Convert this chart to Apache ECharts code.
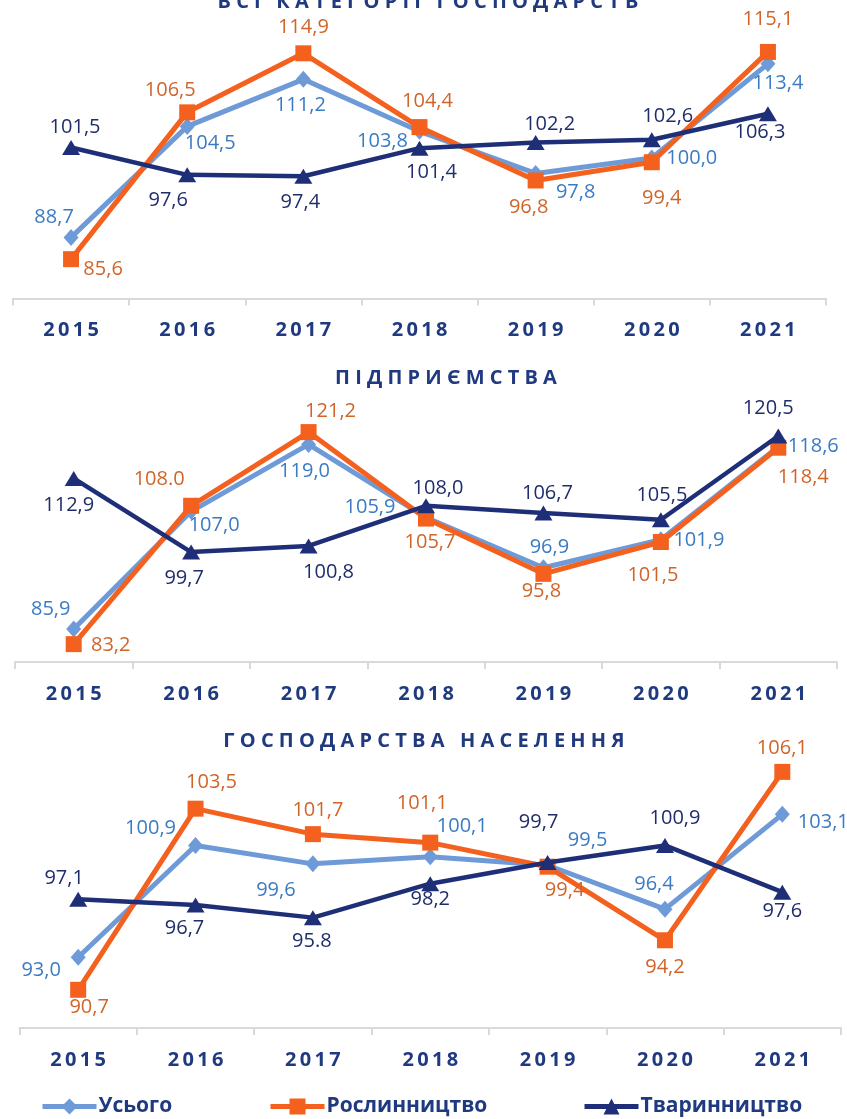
<!DOCTYPE html>
<html><head><meta charset="utf-8">
<script src="https://cdn.jsdelivr.net/npm/echarts@6/dist/echarts.min.js"></script>
<style>html,body{margin:0;padding:0;background:#fff;}#c{width:847px;height:1119px;}</style>
</head><body><div id="c"></div>
<script>
// ---- data ----
const years = ['2015','2016','2017','2018','2019','2020','2021'];
const seriesNames = ['Усього','Рослинництво','Тваринництво'];
const panelTitles = ['ВСІ КАТЕГОРІЇ ГОСПОДАРСТВ','ПІДПРИЄМСТВА','ГОСПОДАРСТВА НАСЕЛЕННЯ'];

// Всі категорії господарств
const allTotal   = [88.7, 104.5, 111.2, 103.8, 97.8, 100.0, 113.4];
const allCrop    = [85.6, 106.5, 114.9, 104.4, 96.8, 99.4, 115.1];
const allLive    = [101.5, 97.6, 97.4, 101.4, 102.2, 102.6, 106.3];
// Підприємства
const entTotal   = [85.9, 107.0, 119.0, 105.9, 96.9, 101.9, 118.6];
const entCrop    = [83.2, 108.0, 121.2, 105.7, 95.8, 101.5, 118.4];
const entLive    = [112.9, 99.7, 100.8, 108.0, 106.7, 105.5, 120.5];
// Господарства населення
const hhTotal    = [93.0, 100.9, 99.6, 100.1, 99.5, 96.4, 103.1];
const hhCrop     = [90.7, 103.5, 101.7, 101.1, 99.4, 94.2, 106.1];
const hhLive     = [97.1, 96.7, 95.8, 98.2, 99.7, 100.9, 97.6];

// labels printed with a dot in the original
const dotLabels = { '1-1': [1], '2-2': [2] };

// ---- styling / layout ----
const colors = ['#6E9BD8', '#F4611F', '#1E2F78'];
const labelColors = ['#3A7BC4', '#D0652A', '#1F2D6B'];
const symbols = ['diamond', 'rect', 'triangle'];
const symbolSizes = [[15, 17], 16, [18, 15]];
const titleColor = '#203A80';

const grids = [
  { left: 13, width: 813, top: 17.5, height: 281, min: 80, max: 120 },
  { left: 15, width: 822, top: 383, height: 279, min: 80, max: 130 },
  { left: 19.5, width: 821.5, top: 745, height: 283, min: 88, max: 108 }
];
const titlePos = [[428, 2], [446, 378], [424, 741]];
const legendLeft = [40, 268, 582];

// label offsets [dx, dy] from point centre, per panel, per series
const offsets = [
  [
    [[-17,-20],[23,17],[-3,26],[-37,10],[40,19],[40,0],[10,19]],
    [[32,10],[-17,-22],[0,-26],[8,-26],[-7,27],[10,36],[0,-33]],
    [[4,-20],[-19,25],[-3,26],[12,24],[14,-18],[16,-23],[-8,19]]
  ],
  [
    [[-23,-20],[23,14],[-4,27],[-56,-10],[6,-20],[38,0],[35,0]],
    [[37,1],[-32,-26],[22,-21],[4,24],[-2,17],[-8,33],[25,30]],
    [[-5,27],[-7,26],[20,26],[12,-17],[4,-20],[1,-24],[-10,-28]]
  ],
  [
    [[-37,13],[-45,-17],[-37,26],[32,-30],[40,-25],[-11,-25],[41,8]],
    [[11,18],[16,-26],[5,-24],[-8,-39],[17,24],[0,27],[0,-24]],
    [[-14,-21],[-11,23],[-1,24],[0,16],[-9,-40],[10,-27],[0,19]]
  ]
];

const panels = [
  [allTotal, allCrop, allLive],
  [entTotal, entCrop, entLive],
  [hhTotal, hhCrop, hhLive]
];

function spaced(t, sep) { return t.split(' ').map(w => w.split('').join(sep)).join(sep + sep + sep); }

const option = {
  animation: false,
  backgroundColor: '#fff',
  grid: grids.map(g => ({ left: g.left, width: g.width, top: g.top, height: g.height, containLabel: false })),
  xAxis: grids.map((g, i) => ({
    type: 'category', gridIndex: i, data: years, boundaryGap: true,
    axisLine: { show: true, lineStyle: { color: '#D9D9D9', width: 2 } },
    axisTick: { show: true, length: 7, lineStyle: { color: '#D9D9D9', width: 2 } },
    axisLabel: {
      margin: 22, color: titleColor, fontFamily: 'Open Sans', fontWeight: 'bold', fontSize: 20,
      formatter: v => v.split('').join('\u2009')
    },
    splitLine: { show: false }
  })),
  yAxis: grids.map((g, i) => ({ type: 'value', gridIndex: i, min: g.min, max: g.max, show: false, splitLine: { show: false } })),
  legend: seriesNames.map((n, i) => ({
    data: [n], left: legendLeft[i], top: 1096, itemWidth: 54, itemHeight: 20, padding: 0, itemGap: 0,
    lineStyle: { width: 5 },
    textStyle: { color: titleColor, fontFamily: 'Open Sans', fontWeight: 'bold', fontSize: 21, padding: [0, 0, 0, -3] }
  })),
  graphic: panelTitles.map((t, i) => ({
    type: 'text', x: titlePos[i][0], y: titlePos[i][1],
    style: { text: spaced(t, ' '), fill: titleColor, font: 'bold 20px "Open Sans"', textAlign: 'center', textVerticalAlign: 'middle' }
  })),
  series: []
};

panels.forEach((vals, p) => {
  vals.forEach((arr, s) => {
    const dots = dotLabels[p + '-' + s] || [];
    option.series.push({
      name: seriesNames[s], type: 'line', xAxisIndex: p, yAxisIndex: p,
      data: arr.map((v, k) => ({
        value: v,
        label: { offset: offsets[p][s][k] }
      })),
      symbol: symbols[s], symbolSize: symbolSizes[s],
      lineStyle: { color: colors[s], width: s === 2 ? 4.5 : 5 },
      itemStyle: { color: colors[s] },
      z: 2 + s,
      label: {
        show: true, position: 'inside', color: labelColors[s],
        fontFamily: 'Open Sans', fontSize: 20,
        formatter: pr => dots.indexOf(pr.dataIndex) >= 0 ? pr.value.toFixed(1) : pr.value.toFixed(1).replace('.', ',')
      },
      emphasis: { disabled: true }
    });
  });
});

const chart = echarts.init(document.getElementById('c'), null, { renderer: 'canvas' });
chart.setOption(option);
</script>
</body></html>
